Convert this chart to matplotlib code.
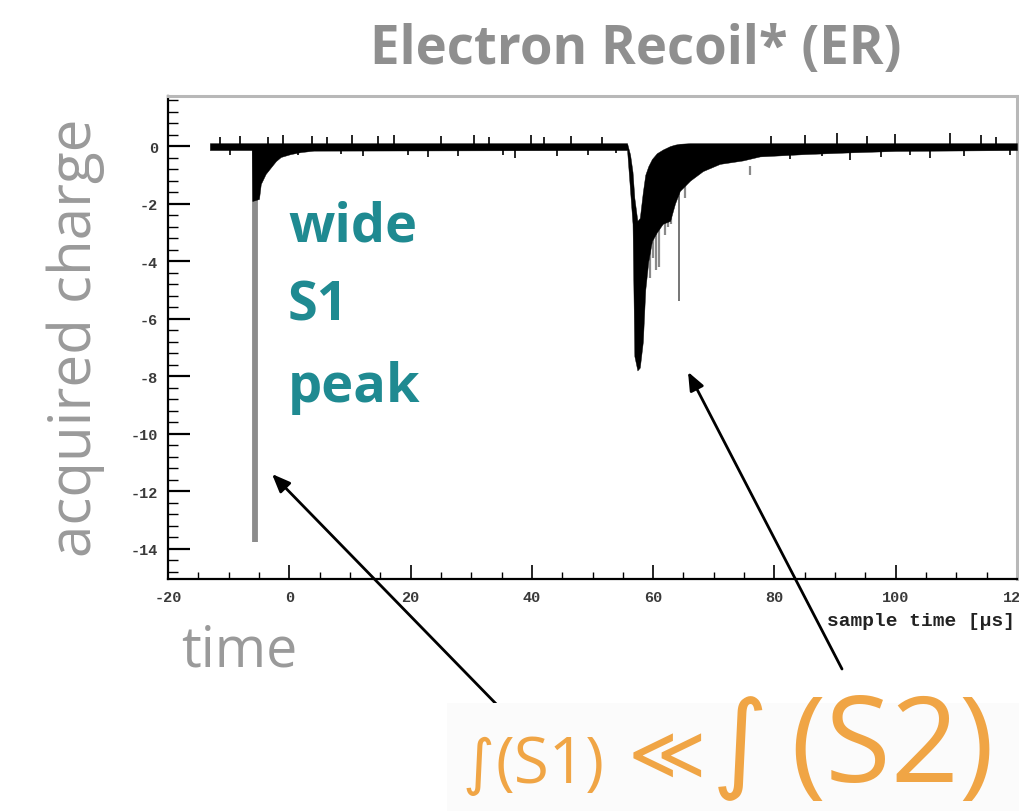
import matplotlib
matplotlib.use("Agg")
import matplotlib.pyplot as plt
from matplotlib.ticker import MultipleLocator, FuncFormatter
from matplotlib.patches import Rectangle

plt.rcParams["axes.unicode_minus"] = False

# ---- waveform envelope (sample time in us, acquired charge) ----
wave_t = [-13.1, -6.2, -6.1, -5.0, -4.7, -3.9, -3.0, -2.2, -1.4, 0.2, 1.9, 4.0,
          55.7, 56.2, 56.6, 56.9, 57.4, 57.8, 58.3, 58.7, 59.2, 59.8, 60.6, 61.6,
          62.8, 63.6, 64.4, 66.1, 68.2, 71.0, 74.8, 77.6, 85.0, 92.5, 100.0, 120.0]
wave_hi = [0.1, 0.1, 0.1, 0.1, 0.1, 0.1, 0.1, 0.1, 0.1, 0.1, 0.1, 0.1,
           0.1, -0.3, -0.9, -1.8, -2.6, -2.5, -1.6, -1.0, -0.7, -0.45, -0.25, -0.12,
           0.0, 0.05, 0.08, 0.1, 0.1, 0.1, 0.1, 0.1, 0.1, 0.1, 0.1, 0.1]
wave_lo = [-0.14, -0.14, -1.91, -1.84, -1.32, -0.97, -0.73, -0.52, -0.38, -0.28, -0.21, -0.16,
           -0.14, -1.56, -2.7, -7.3, -7.8, -7.7, -6.8, -5.0, -4.0, -3.3, -3.0, -2.7,
           -2.6, -2.0, -1.56, -1.2, -0.87, -0.62, -0.5, -0.36, -0.28, -0.22, -0.17, -0.14]

# prompt S1 spike
s1_t = -5.65
s1_v = -13.75

# isolated spike on the S2 tail
s2_spike_t = 64.3
s2_spike_v = -5.4

# lighter strands on the S2 falling edge
s2_strand_t = [59.4, 59.9, 60.4, 61.0, 61.9, 62.5, 63.0, 65.2, 70.6, 76.0]
s2_strand_v = [-4.6, -3.9, -4.3, -4.2, -3.1, -2.8, -2.7, -1.8, -1.0, -0.68]

# baseline noise excursions
noise_t = [-11.5, -9.8, -8.2, -3.5, -1.0, 1.5, 3.8, 6.2, 8.5, 10.4, 12.1, 14.7,
           17.3, 19.6, 22.8, 25.1, 27.9, 30.4, 33.0, 35.2, 37.3, 39.8, 42.0, 44.2,
           46.5, 49.3, 51.6, 53.9, 79.5, 82.6, 85.0, 87.8, 90.4, 92.5, 95.3, 97.6,
           99.8, 102.4, 105.7, 108.9, 111.3, 114.0, 116.6, 118.8]
noise_v = [0.3, -0.3, 0.35, 0.3, 0.4, -0.3, 0.35, 0.3, -0.28, 0.4, -0.33, 0.35,
           0.4, -0.3, -0.38, 0.35, -0.33, 0.4, 0.3, -0.3, -0.4, 0.38, 0.3, -0.33,
           0.35, -0.32, 0.3, -0.25, 0.35, -0.45, 0.4, -0.35, 0.45, -0.5, 0.35, -0.38,
           0.42, -0.3, -0.42, 0.45, -0.35, 0.4, 0.3, -0.3]

x_range = (-20, 120)
y_range = (-15.05, 1.74)

W, H = 1019, 812
fig = plt.figure(figsize=(W / 100, H / 100), dpi=100)
fig.patch.set_facecolor("white")

def fx(px):
    return px / W

def fy(py):
    return 1 - py / H

ax = fig.add_axes([fx(168), fy(580), fx(1017 - 168), (580 - 97) / H])
ax.set_xlim(*x_range)
ax.set_ylim(*y_range)

# waveform
ax.fill_between(wave_t, wave_lo, wave_hi, color="black", lw=0.3, zorder=3)
ax.vlines(noise_t, 0, noise_v, color="black", lw=1.2, zorder=3)
ax.vlines(s2_strand_t, -1.0, s2_strand_v, color="#8a8a8a", lw=1.6, zorder=2)
ax.vlines([s1_t], 0, [s1_v], color="#8c8c8c", lw=4.2, zorder=2)
ax.vlines([s2_spike_t], -1.5, [s2_spike_v], color="#6a6a6a", lw=1.3, zorder=2)

# axis styling
for side in ("left", "bottom"):
    ax.spines[side].set_color("black")
    ax.spines[side].set_linewidth(1.6)
for side in ("top", "right"):
    ax.spines[side].set_color("#b8b8b8")
    ax.spines[side].set_linewidth(2.2)

ax.xaxis.set_major_locator(MultipleLocator(20))
ax.xaxis.set_minor_locator(MultipleLocator(5))
ax.yaxis.set_major_locator(MultipleLocator(2))
ax.yaxis.set_minor_locator(MultipleLocator(0.4))
fmt = FuncFormatter(lambda v, p: "%d" % round(v))
ax.xaxis.set_major_formatter(fmt)
ax.yaxis.set_major_formatter(fmt)

ax.tick_params(axis="x", which="major", direction="in", length=10, width=1.2,
               pad=8, labelcolor="#3a3a3a", top=False)
ax.tick_params(axis="x", which="minor", direction="in", length=5, width=1.0, top=False)
ax.tick_params(axis="y", which="major", direction="in", length=16, width=1.6,
               pad=7, labelcolor="#3a3a3a", right=False)
ax.tick_params(axis="y", which="minor", direction="in", length=7, width=1.0, right=False)
for lab in ax.get_xticklabels() + ax.get_yticklabels():
    lab.set_fontfamily("Liberation Mono")
    lab.set_fontsize(11)
    lab.set_fontweight("bold")

fig.text(fx(1015), fy(626), "sample time [\u00b5s]", ha="right", va="baseline",
         family="Liberation Mono", size=14, weight="bold", color="#222222")

# headings and annotations
fig.text(fx(636), fy(64), "Electron Recoil* (ER)", ha="center", va="baseline",
         family="Open Sans", weight="bold", size=38, color="#8f8f8f")
fig.text(fx(76), fy(338), "acquired charge", rotation=90, ha="center", va="center",
         family="Open Sans", size=42, color="#9a9a9a")
fig.text(fx(181), fy(667), "time", ha="left", va="baseline",
         family="Open Sans", size=40, color="#9a9a9a")

teal = "#1f8a91"
for word, base in (("wide", 241), ("S1", 321), ("peak", 402)):
    fig.text(fx(288), fy(base), word, ha="left", va="baseline",
             family="Open Sans", weight="bold", size=39, color=teal)

# integral comparison
orange = "#f0a545"
fig.patches.append(Rectangle((fx(447), 0), fx(W - 447), fy(704), transform=fig.transFigure,
                             facecolor="#fbfbfb", edgecolor="none", zorder=0))
fig.text(fx(463), fy(783), "\u222b", ha="left", va="baseline",
         family=["DejaVu Sans"], size=44, color=orange)
fig.text(fx(496), fy(783), "(S1)", ha="left", va="baseline",
         family=["Open Sans", "DejaVu Sans"], size=46, color=orange)
fig.text(fx(628), fy(779), "\u226a", ha="left", va="baseline",
         family=["DejaVu Sans"], size=54, color=orange)
fig.text(fx(712), fy(778), "\u222b", ha="left", va="baseline",
         family=["DejaVu Sans"], size=78, color=orange)
fig.text(fx(790), fy(782), "(S2)", ha="left", va="baseline",
         family=["Open Sans", "DejaVu Sans"], size=86, color=orange)

# arrows from the comparison up to the two pulses
arrow = dict(arrowstyle="-|>,head_length=1.1,head_width=0.45", color="black", lw=2.0,
             shrinkA=0, shrinkB=0)
ax.annotate("", xy=(-2.85, -11.4), xycoords="data",
            xytext=(fx(503), fy(712)), textcoords="figure fraction",
            arrowprops=arrow, annotation_clip=False)
ax.annotate("", xy=(65.75, -7.85), xycoords="data",
            xytext=(fx(842), fy(670)), textcoords="figure fraction",
            arrowprops=arrow, annotation_clip=False)

fig.savefig("out.png", dpi=100, facecolor="white")
